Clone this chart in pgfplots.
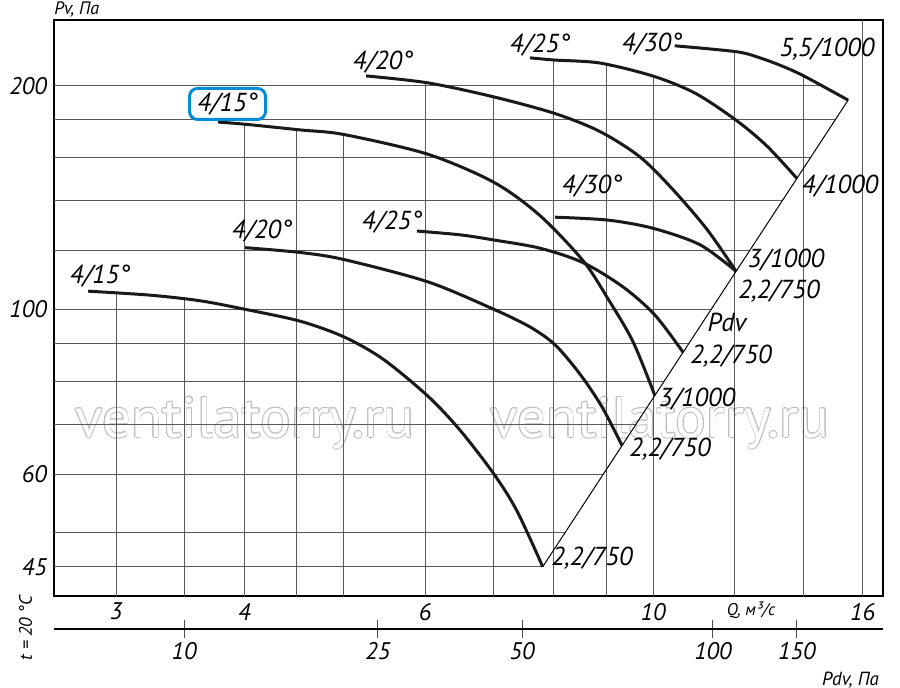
\documentclass[border=0pt]{standalone}
\usepackage{fontspec}
\setmainfont{PT Sans}
\usepackage{pgfplots}
\pgfplotsset{compat=1.18}
\pgfdeclarelayer{background}
\pgfsetlayers{background,main}
\definecolor{boxblue}{RGB}{0,140,214}
\newcommand\lbl{\fontsize{12}{14}\selectfont\itshape}
\newcommand\clbl{\fontsize{13}{15}\selectfont\itshape}
\newcommand\sml{\fontsize{9}{11}\selectfont\itshape}
\tikzset{
  grd/.style={black!65, line width=0.5pt},
  lab/.style={font=\clbl, inner sep=0pt, anchor=center},
  wm/.style={font=\fontsize{28.5}{30}\selectfont, inner sep=0pt},
}

\begin{document}
\begin{tikzpicture}
\begin{axis}[
  width=414.5pt, height=288pt, scale only axis,
  xmode=log, ymode=log,
  xmin=2.61, xmax=16.75, ymin=41.1, ymax=245.4,
  xtick={3,4,6,10,16}, xticklabels={3,4,6,10,16},
  ytick={45,60,100,200}, yticklabels={45,60,100,200},
  major tick length=0pt, minor tick length=0pt,
  tick label style={font=\lbl},
  axis line style={line width=1pt},
  clip=false,
]
\coordinate (bl) at (rel axis cs:0,0);
\coordinate (tr) at (rel axis cs:1,1);
\coordinate (w1) at (rel axis cs:0.2304,0.3003);
\coordinate (w2) at (rel axis cs:0.7310,0.3003);

% vertical grid lines, up to the top curve
\addplot[grd] coordinates {(3,41.1)(3,105.3)};
\addplot[grd] coordinates {(3.5,41.1)(3.5,103.3)};
\addplot[grd] coordinates {(4,41.1)(4,177.6)};
\addplot[grd] coordinates {(4.5,41.1)(4.5,174.7)};
\addplot[grd] coordinates {(5,41.1)(5,172.0)};
\addplot[grd] coordinates {(6,41.1)(6,202.1)};
\addplot[grd] coordinates {(7,41.1)(7,193.3)};
\addplot[grd] coordinates {(8,41.1)(8,216.8)};
\addplot[grd] coordinates {(9,41.1)(9,214.2)};
\addplot[grd] coordinates {(10,41.1)(10,206.2)};
\addplot[grd] coordinates {(12,41.1)(12,222.4)};
\addplot[grd] coordinates {(14,41.1)(14,206.2)};
\addplot[grd] coordinates {(16,41.1)(16,245.4)};
% horizontal grid lines, up to the Pdv line
\addplot[grd] coordinates {(2.61,45)(7.81,45)};
\addplot[grd] coordinates {(2.61,50)(8.213,50)};
\addplot[grd] coordinates {(2.61,60)(8.953,60)};
\addplot[grd] coordinates {(2.61,70)(9.631,70)};
\addplot[grd] coordinates {(2.61,80)(10.256,80)};
\addplot[grd] coordinates {(2.61,90)(10.843,90)};
\addplot[grd] coordinates {(2.61,100)(11.397,100)};
\addplot[grd] coordinates {(2.61,120)(12.42,120)};
\addplot[grd] coordinates {(2.61,140)(13.365,140)};
\addplot[grd] coordinates {(2.61,160)(14.237,160)};
\addplot[grd] coordinates {(2.61,180)(15.05,180)};
\addplot[grd] coordinates {(2.61,200)(14.6,200)};

% 2,2/750 curves
\addplot[black!90, line width=1.5pt, smooth] coordinates {(2.818,105.8)(3.238,104.5)(3.622,102.7)(4.007,100.0)(4.532,96.4)(5.002,91.8)(5.459,85.7)(6.037,76.4)(6.49,68.7)(7.0,60.0)(7.372,53.5)(7.81,45.0)};
\addplot[black!90, line width=1.5pt, smooth] coordinates {(4.007,121.1)(4.532,119.3)(5.002,116.7)(6.037,108.9)(7.0,100.0)(7.589,94.7)(8.027,89.6)(8.490,81.8)(8.919,73.9)(9.33,65.5)};
\addplot[black!90, line width=1.5pt, smooth] coordinates {(5.890,127.5)(6.49,126.0)(7.0,124.0)(7.76,120.9)(8.548,115.6)(9.35,107.2)(10.04,98.3)(10.70,87.5)};
\addplot[black!90, line width=1.5pt, smooth] coordinates {(8.027,133.1)(9.04,131.9)(10.0,128.6)(11.11,122.2)(12.05,112.5)};
% upper curves
\addplot[black!90, line width=1.5pt, smooth] coordinates {(3.771,178.8)(4.007,177.6)(4.532,174.5)(5.002,172.0)(6.037,161.8)(7.0,148.3)(7.76,133.8)(8.548,116.3)(9.041,103.3)(9.56,90.5)(10.04,76.6)};
\addplot[black!90, line width=1.5pt, smooth] coordinates {(5.255,206.3)(6.037,201.9)(7.0,193.3)(8.027,183.6)(8.879,173.6)(9.711,160.5)(10.457,145.0)(11.29,128.1)(12.05,112.5)};
\addplot[black!90, line width=1.5pt, smooth] coordinates {(7.589,218.2)(8.027,216.7)(8.879,214.7)(10.0,206.2)(10.99,195.6)(12.05,179.8)(12.91,166.0)(13.81,150.1)};
\addplot[black!90, line width=1.5pt, smooth] coordinates {(10.50,226.5)(12.05,222.4)(12.71,218.2)(13.39,212.4)(14.06,205.9)(15.49,191.4)};
% Pdv line
\addplot[black, line width=0.5pt] coordinates {(7.81,45)(15.49,191.4)};

% curve labels
\node[lab, draw=boxblue, line width=1.5pt, rounded corners=4pt, minimum width=38pt, minimum height=15.5pt] at (rel axis cs:0.2093,0.8542) {4/15°};
\node[lab] at (rel axis cs:0.3969,0.9271) {4/20°};
\node[lab] at (rel axis cs:0.5862,0.9566) {4/25°};
\node[lab] at (rel axis cs:0.7213,0.9583) {4/30°};
\node[lab] at (rel axis cs:0.9324,0.9497) {5,5/1000};
\node[lab] at (rel axis cs:0.9481,0.7118) {4/1000};
\node[lab] at (rel axis cs:0.8830,0.5833) {3/1000};
\node[lab] at (rel axis cs:0.8745,0.5295) {2,2/750};
\node[lab] at (rel axis cs:0.8118,0.4740) {Pdv};
\node[lab] at (rel axis cs:0.8166,0.4167) {2,2/750};
\node[lab] at (rel axis cs:0.7756,0.3420) {3/1000};
\node[lab] at (rel axis cs:0.7431,0.2552) {2,2/750};
\node[lab] at (rel axis cs:0.6490,0.0660) {2,2/750};
\node[lab] at (rel axis cs:0.0555,0.5556) {4/15°};
\node[lab] at (rel axis cs:0.2509,0.6337) {4/20°};
\node[lab] at (rel axis cs:0.4077,0.6493) {4/25°};
\node[lab] at (rel axis cs:0.6490,0.7118) {4/30°};

% axis texts
\node[font=\sml, inner sep=0pt, anchor=base west] at ([yshift=2.5pt]rel axis cs:0,1) {Pv, Па};
\node[font=\sml, inner sep=0pt, rotate=90] at (rel axis cs:-0.0344,-0.0556) {t = 20 °C};
\node[font=\fontsize{8.5}{10}\selectfont\itshape, inner sep=0pt] at (rel axis cs:0.8408,-0.0243) {Q, м³/с};
\node[font=\fontsize{9.5}{11}\selectfont\itshape, inner sep=0pt] at (rel axis cs:0.9608,-0.1458) {Pdv, Па};
\end{axis}

% Pdv scale under the Q axis
\begin{axis}[
  at={(bl)}, anchor=south west, yshift=-16.5pt,
  width=414.5pt, height=1pt, scale only axis,
  xmode=log, xmin=2.61, xmax=16.75, ymin=0, ymax=1,
  axis y line=none, axis x line*=bottom,
  xtick={3.495,5.397,7.456,11.44,13.81},
  xticklabels={10,25,50,100,150},
  major tick length=9pt, minor tick length=0pt, tick align=center,
  tick style={black!70, line width=0.5pt},
  x axis line style={line width=1pt},
  xticklabel style={font=\lbl, yshift=1.5pt},
]
\addplot[draw=none] coordinates {(3,0)(16,0)};
\end{axis}

% watermark
\begin{pgfonlayer}{background}
\foreach \a in {0,30,...,330} {
  \node[wm, text=black!26] at ([shift={(\a:0.35pt)}]w1) {ventilatorry.ru};
  \node[wm, text=black!26] at ([shift={(\a:0.35pt)}]w2) {ventilatorry.ru};
}
\node[wm, text=white] at (w1) {ventilatorry.ru};
\node[wm, text=white] at (w2) {ventilatorry.ru};
\end{pgfonlayer}

\pgfresetboundingbox
\path[use as bounding box] ([shift={(-27pt,-46pt)}]bl) rectangle ([shift={(8.5pt,10pt)}]tr);
\end{tikzpicture}
\end{document}
